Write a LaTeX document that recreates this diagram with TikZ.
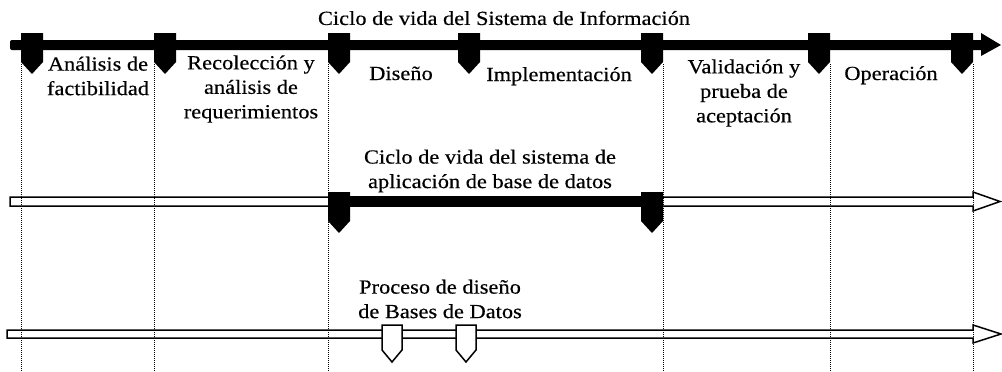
\documentclass[tikz,border=0pt]{standalone}
\usepackage{fontspec}
\setmainfont{Liberation Serif}[FakeStretch=1.12,FakeBold=0.4]
\begin{document}
\begin{tikzpicture}[x=1pt,y=-1pt,
  lbl/.style={font=\fontsize{20}{24.5}\selectfont, align=center, inner sep=0pt},
  dotline/.style={line width=1pt, dash pattern=on 1.2pt off 0.8pt},
  bmark/.pic={\fill[black] (0,0) -- (22,0) -- (22,29) -- (11,41) -- (0,29) -- cycle;},
  omark/.pic={\draw[line width=1.5pt, fill=white] (0,0) -- (20,0) -- (20,25) -- (10,37) -- (0,25) -- cycle;}]
\useasboundingbox (0,0) rectangle (1002,372);

% vertical dotted separators
\foreach \x in {21,154,328,663,830,973}
  \draw[dotline] (\x,64) -- (\x,372);

% title
\node[lbl] (title) at (504,18) {Ciclo de vida del Sistema de Informaci\'on};

% top thick arrow
\fill[black, rounded corners=2pt] (10,40) rectangle (984,50);
\fill[black] (981,33) -- (1001,45) -- (981,56) -- cycle;
\foreach \x in {21,154,328,458}
  \pic at (\x,33) {bmark};
\foreach \x in {641,808,951}
  \pic at (\x,33) {bmark};

% phase labels
\node[lbl] (af) at (98,76) {An\'alisis de\\factibilidad};
\node[lbl] (rr) at (251,89) {Recolecci\'on y\\an\'alisis de\\requerimientos};
\node[lbl, anchor=base] (di) at (401,80) {Dise\~no};
\node[lbl, anchor=base] (im) at (559,81) {Implementaci\'on};
\node[lbl] (va) at (744,93) {Validaci\'on y\\prueba de\\aceptaci\'on};
\node[lbl, anchor=base] (op) at (891,80) {Operaci\'on};

% second (hollow) arrow
\node[lbl] (sa) at (490,171) {Ciclo de vida del sistema de\\aplicaci\'on de base de datos};
\draw[line width=1.5pt, fill=white] (10,197) -- (973,197) -- (973,192) -- (1000,201.5)
  -- (973,211) -- (973,206) -- (10,206) -- cycle;
\fill[black] (328,196) rectangle (663,207);
\pic at (328,192) {bmark};
\pic at (641,192) {bmark};

% third (hollow) arrow
\node[lbl] (pd) at (440,299) {Proceso de dise\~no\\de Bases de Datos};
\draw[line width=1.5pt, fill=white] (7,330) -- (973,330) -- (973,325) -- (1001,334)
  -- (973,343) -- (973,338) -- (7,338) -- cycle;
\pic at (382,325) {omark};
\pic at (456,325) {omark};

% separators crossing the hollow arrows
\foreach \x in {21,154,663,830,973}
  \draw[dotline] (\x,190) -- (\x,215);
\foreach \x in {21,154,328,663,830,973}
  \draw[dotline] (\x,320) -- (\x,350);
\end{tikzpicture}
\end{document}
